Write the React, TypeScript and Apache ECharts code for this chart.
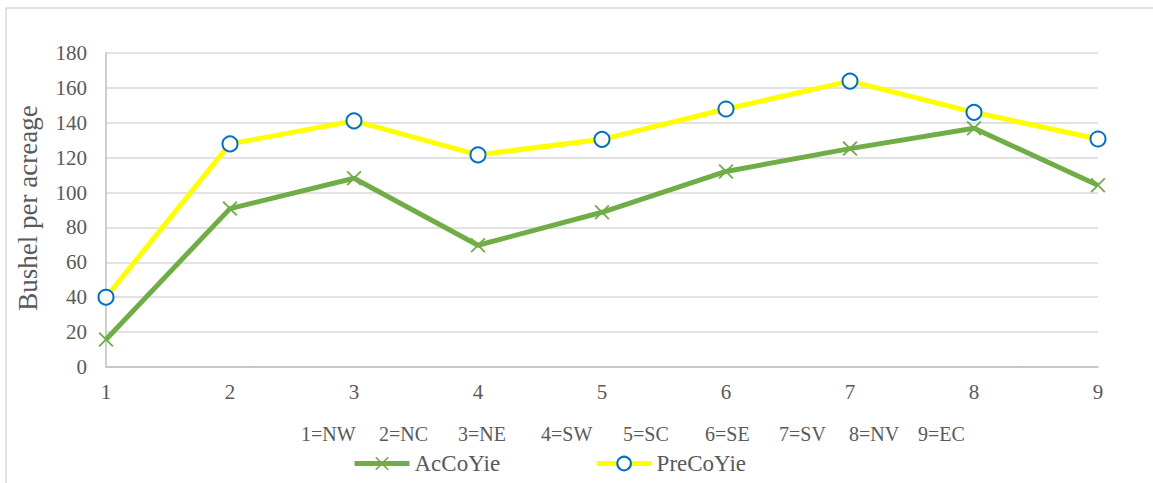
import React, { useEffect, useRef } from "react";
import * as echarts from "echarts";

const categories = ["1", "2", "3", "4", "5", "6", "7", "8", "9"];
const acCoYie = [15.8, 90.8, 108.2, 69.8, 88.7, 112.1, 125.2, 136.9, 104.2];
const preCoYie = [40, 127.9, 141.1, 121.6, 130.5, 147.9, 163.9, 146.0, 130.7];
const regionLabels = ["1=NW", "2=NC", "3=NE", "4=SW", "5=SC", "6=SE", "7=SV", "8=NV", "9=EC"];
const yTicks = { min: 0, max: 180, interval: 20 };

// layout only
const regionLabelX = [301, 379, 458, 541, 623, 705, 779, 849, 918];

const FONT = "Liberation Serif";
const TEXT = "#595959";
const X_SYMBOL =
  "path://M0,1.2L1.2,0L7,5.8L12.8,0L14,1.2L8.2,7L14,12.8L12.8,14L7,8.2L1.2,14L0,12.8L5.8,7Z";

export default function App() {
  const ref = useRef<HTMLDivElement>(null);
  useEffect(() => {
    if (!ref.current) return;
    const chart = echarts.init(ref.current, null, { renderer: "svg" });
    chart.setOption({
      animation: false,
      backgroundColor: "#ffffff",
      textStyle: { fontFamily: FONT },
      grid: { left: 106, right: 55, top: 53, bottom: 116, containLabel: false },
      xAxis: {
        type: "category",
        data: categories,
        boundaryGap: false,
        axisLine: { show: true, lineStyle: { color: "#bfbfbf", width: 1.5 } },
        axisTick: { show: false },
        axisLabel: { color: TEXT, fontSize: 21, fontFamily: FONT, margin: 14 },
        splitLine: { show: false },
      },
      yAxis: {
        type: "value",
        min: yTicks.min,
        max: yTicks.max,
        interval: yTicks.interval,
        axisLine: { show: true, lineStyle: { color: "#bfbfbf", width: 1.5 } },
        axisTick: { show: false },
        axisLabel: { color: TEXT, fontSize: 21, fontFamily: FONT, margin: 19 },
        splitLine: { show: true, lineStyle: { color: "#d9d9d9", width: 1.5 } },
      },
      legend: {
        left: 352,
        top: 452,
        padding: 0,
        itemWidth: 55,
        itemHeight: 17,
        itemGap: 94,
        lineStyle: { width: 5 },
        textStyle: { color: TEXT, fontSize: 23, fontFamily: FONT },
        data: ["AcCoYie", "PreCoYie"],
      },
      graphic: [
        {
          type: "rect",
          silent: true,
          shape: { x: 6, y: 8, width: 1300, height: 700 },
          style: { fill: "none", stroke: "#d9d9d9", lineWidth: 1.5 },
        },
        {
          type: "text",
          x: 28,
          y: 208,
          rotation: Math.PI / 2,
          style: {
            text: "Bushel per acreage",
            fill: TEXT,
            fontSize: 27,
            fontFamily: FONT,
            textAlign: "center",
            textVerticalAlign: "middle",
          },
        },
        ...regionLabels.map((t, i) => ({
          type: "text",
          x: regionLabelX[i],
          y: 434,
          style: {
            text: t,
            fill: TEXT,
            fontSize: 20,
            fontFamily: FONT,
            textAlign: "left",
            textVerticalAlign: "middle",
          },
        })),
      ],
      series: [
        {
          name: "AcCoYie",
          type: "line",
          data: acCoYie,
          symbol: X_SYMBOL,
          symbolSize: 15,
          lineStyle: { color: "#70ad47", width: 5 },
          itemStyle: { color: "#70ad47" },
          z: 2,
        },
        {
          name: "PreCoYie",
          type: "line",
          data: preCoYie,
          symbol: "circle",
          symbolSize: 15,
          lineStyle: { color: "#ffff00", width: 5 },
          itemStyle: { color: "#ffffff", borderColor: "#0070c0", borderWidth: 2 },
          z: 3,
        },
      ],
    });
    return () => chart.dispose();
  }, []);
  return (
    <div
      ref={ref}
      style={{ position: "fixed", left: 0, top: 0, width: 1153, height: 483, background: "#fff" }}
    />
  );
}
